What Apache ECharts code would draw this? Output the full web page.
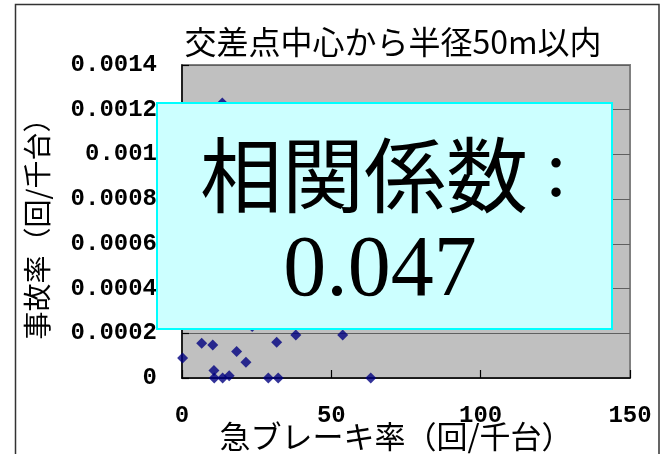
<!DOCTYPE html>
<html>
<head>
<meta charset="utf-8">
<script src="https://cdn.jsdelivr.net/npm/echarts@6/dist/echarts.min.js"></script>
<style>
  html, body { margin: 0; padding: 0; background: #ffffff; }
  #chart { width: 660px; height: 454px; }
</style>
</head>
<body>
<div id="chart"></div>
<script>
// Intersection sites within 50 m: hard-braking rate vs accident rate
const brakeRate = [0.2, 6.6, 10.3, 18.3, 21.4, 31.7, 10.7, 10.8, 13.6, 15.8, 28.9, 32.2, 38.1, 53.8, 63.2, 23.5, 13.5];
const accidentRate = [0.00009, 0.000155, 0.000148, 0.000118, 0.00007, 0.00016, 0.000033, 0, 0, 0.00001, 0, 0, 0.000192, 0.000192, 0, 0.00023, 0.00123];
const yTickLabels = ['0', '0.0002', '0.0004', '0.0006', '0.0008', '0.001', '0.0012', '0.0014'];
const xTickLabels = ['0', '50', '100', '150'];
const chartTitle = '交差点中心から半径50m以内';
const xAxisTitle = '急ブレーキ率（回/千台）';
const yAxisTitle = '事故率（回/千台）';
const corrLabel = '相関係数';
const corrColon = ':';
const corrValue = '0.047';

const points = brakeRate.map((x, i) => [x, accidentRate[i]]);
const tickFont = '"Liberation Mono", monospace';
const cjkFont = '"Noto Sans CJK JP", sans-serif';

const chart = echarts.init(document.getElementById('chart'), null, { renderer: 'canvas' });
chart.setOption({
  animation: false,
  backgroundColor: '#ffffff',
  grid: {
    left: 182, right: 30, top: 65, bottom: 76,
    show: true, backgroundColor: '#c0c0c0', borderColor: '#808080', borderWidth: 2
  },
  xAxis: {
    type: 'value', min: 0, max: 150, interval: 50,
    axisLine: { show: true, onZero: false, lineStyle: { color: '#000', width: 1.5 } },
    axisTick: { show: true, inside: true, length: 8, lineStyle: { color: '#000', width: 1.2 } },
    splitLine: { show: false },
    axisLabel: {
      margin: 26, color: '#000', fontFamily: tickFont, fontSize: 24, fontWeight: 'bold',
      formatter: v => xTickLabels[Math.round(v / 50)]
    }
  },
  yAxis: {
    type: 'value', min: 0, max: 0.0014, interval: 0.0002,
    axisLine: { show: true, onZero: false, lineStyle: { color: '#000', width: 1.5 } },
    axisTick: { show: true, inside: true, length: 7, lineStyle: { color: '#000', width: 1.2 } },
    splitLine: { show: true, lineStyle: { color: '#606060', width: 1 } },
    axisLabel: {
      margin: 25, color: '#000', fontFamily: tickFont, fontSize: 24, fontWeight: 'bold',
      formatter: v => yTickLabels[Math.round(v / 0.0002)]
    }
  },
  series: [{
    type: 'scatter',
    data: points,
    symbol: 'diamond',
    symbolSize: 11,
    itemStyle: { color: '#000080' },
    z: 2
  }],
  graphic: [
    // outer chart frame
    { type: 'polyline', z: 1, shape: { points: [[15.5, 454], [15.5, 4.5], [659, 4.5], [659, 454]] },
      style: { stroke: '#333', lineWidth: 1.5, fill: null } },
    { type: 'text', z: 5, x: 393, y: 42,
      style: { text: chartTitle, fontFamily: cjkFont, fontSize: 32, fill: '#000',
               textAlign: 'center', textVerticalAlign: 'middle' } },
    { type: 'text', z: 5, x: 396, y: 436,
      style: { text: xAxisTitle, fontFamily: cjkFont, fontSize: 31, fill: '#000',
               textAlign: 'center', textVerticalAlign: 'middle' } },
    { type: 'text', z: 5, x: 37, y: 222, rotation: Math.PI / 2,
      style: { text: yAxisTitle, fontFamily: cjkFont, fontSize: 28, fill: '#000',
               textAlign: 'center', textVerticalAlign: 'middle' } },
    // correlation callout box
    { type: 'rect', z: 10, shape: { x: 157, y: 103, width: 455, height: 226 },
      style: { fill: '#ccffff', stroke: '#00ffff', lineWidth: 2 } },
    { type: 'text', z: 11, x: 364, y: 175,
      style: { text: corrLabel, fontFamily: cjkFont, fontSize: 82,
               fill: '#000', textAlign: 'center', textVerticalAlign: 'middle' } },
    { type: 'text', z: 11, x: 556, y: 175,
      style: { text: corrColon, fontFamily: '"Liberation Serif", serif', fontSize: 80,
               fill: '#000', textAlign: 'center', textVerticalAlign: 'middle' } },
    { type: 'text', z: 11, x: 380, y: 272,
      style: { text: corrValue, fontFamily: '"Liberation Serif", serif', fontSize: 86,
               fill: '#000', textAlign: 'center', textVerticalAlign: 'middle' } }
  ]
});
</script>
</body>
</html>
